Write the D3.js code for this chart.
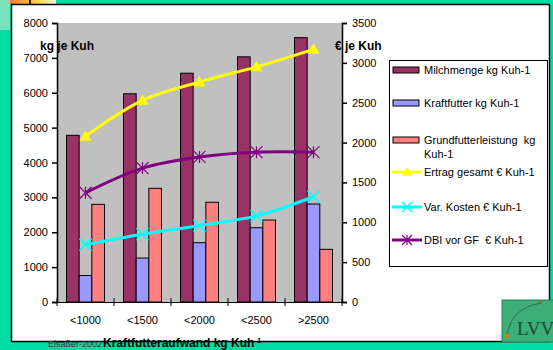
<!DOCTYPE html>
<html>
<head>
<meta charset="utf-8">
<script src="https://cdn.jsdelivr.net/npm/d3@7"></script>
<style>
  body { margin: 0; padding: 0; }
  svg { display: block; font-family: "Liberation Sans", Arial, sans-serif; }
</style>
</head>
<body>
<div id="chart"></div>
<script>
// categories and series
var categories = ["<1000", "<1500", "<2000", "<2500", ">2500"];

var milchmenge = [4780, 5970, 6560, 7030, 7580];
var kraftfutter = [760, 1260, 1700, 2130, 2810];
var grundfutter = [2800, 3260, 2860, 2350, 1510];

var ertrag = [2080, 2530, 2760, 2950, 3170];
var varKosten = [720, 850, 960, 1080, 1320];
var dbi = [1370, 1680, 1820, 1880, 1880];

var leftTicks = [0, 1000, 2000, 3000, 4000, 5000, 6000, 7000, 8000];
var rightTicks = [0, 500, 1000, 1500, 2000, 2500, 3000, 3500];

var barSeries = [
  { name: "Milchmenge kg Kuh-1", values: milchmenge, color: "#993366" },
  { name: "Kraftfutter kg Kuh-1", values: kraftfutter, color: "#9999FF" },
  { name: ["Grundfutterleistung\u00A0 kg", "Kuh-1"], values: grundfutter, color: "#FF8080" }
];
var lineSeries = [
  { name: "Ertrag gesamt \u20AC Kuh-1", values: ertrag, color: "#FFFF00", marker: "tri" },
  { name: "Var. Kosten \u20AC Kuh-1", values: varKosten, color: "#00FFFF", marker: "x" },
  { name: "DBI vor GF\u00A0 \u20AC Kuh-1", values: dbi, color: "#800080", marker: "star" }
];

var svgWidth = 553, svgHeight = 350;

var svg = d3.select("#chart").append("svg")
  .attr("width", svgWidth)
  .attr("height", svgHeight);

// teal page background
svg.append("rect").attr("width", svgWidth).attr("height", svgHeight).attr("fill", "#00DDA2");

// little decoration top-left
var grad = svg.append("defs").append("linearGradient").attr("id", "corner");
grad.append("stop").attr("offset", "0%").attr("stop-color", "#F07030");
grad.append("stop").attr("offset", "60%").attr("stop-color", "#FFD040");
grad.append("stop").attr("offset", "100%").attr("stop-color", "#FFF8E0");
svg.append("rect").attr("x", 8).attr("y", 0).attr("width", 48).attr("height", 4).attr("fill", "url(#corner)");
svg.append("rect").attr("x", 0).attr("y", 0).attr("width", 10).attr("height", 30).attr("fill", "#C8E8D0").attr("opacity", 0.6);
svg.append("rect").attr("x", 29).attr("y", 0).attr("width", 2).attr("height", 4).attr("fill", "#222");

// white card
svg.append("rect").attr("x", 11.5).attr("y", 4.5).attr("width", 538).attr("height", 337)
  .attr("fill", "#fff").attr("stroke", "#000").attr("stroke-width", 1.5);

// plot area
var plot = { left: 57, right: 342, top: 23, bottom: 302 };

var x = d3.scaleBand().domain(categories).range([plot.left, plot.right]).paddingInner(0).paddingOuter(0);
var yLeft = d3.scaleLinear().domain([0, 8000]).range([plot.bottom, plot.top]);
var yRight = d3.scaleLinear().domain([0, 3500]).range([plot.bottom, plot.top]);

svg.append("rect").attr("x", plot.left).attr("y", plot.top)
  .attr("width", plot.right - plot.left).attr("height", plot.bottom - plot.top)
  .attr("fill", "#C0C0C0");

// bars: 3 per category, gap width 150%
var barW = x.bandwidth() / 4.5;
var groupOffset = barW * 0.75;
barSeries.forEach(function(s, i) {
  svg.append("g").selectAll("rect")
    .data(s.values)
    .enter()
    .append("rect")
    .attr("x", (d, j) => x(categories[j]) + groupOffset + i * barW)
    .attr("y", d => yLeft(d))
    .attr("width", barW)
    .attr("height", d => yLeft(0) - yLeft(d))
    .attr("fill", s.color)
    .attr("stroke", "#000")
    .attr("stroke-width", 1);
});

// markers
function drawMarker(g, type, color, cx, cy, big) {
  var r = big ? 6 : 5;
  if (type === "tri") {
    g.append("path")
      .attr("d", `M${cx},${cy - r} L${cx + r},${cy + r * 0.75} L${cx - r},${cy + r * 0.75} Z`)
      .attr("fill", color);
  } else if (type === "x") {
    g.append("path")
      .attr("d", `M${cx - r},${cy - r} L${cx + r},${cy + r} M${cx - r},${cy + r} L${cx + r},${cy - r}`)
      .attr("stroke", color).attr("stroke-width", 1.5);
  } else {
    g.append("path")
      .attr("d", `M${cx - r},${cy - r} L${cx + r},${cy + r} M${cx - r},${cy + r} L${cx + r},${cy - r} M${cx},${cy - r} L${cx},${cy + r}`)
      .attr("stroke", color).attr("stroke-width", 1.2);
  }
}

// lines on right axis
var line = d3.line()
  .x((d, j) => x(categories[j]) + x.bandwidth() / 2)
  .y(d => yRight(d))
  .curve(d3.curveCatmullRom.alpha(0.5));

lineSeries.forEach(function(s) {
  var g = svg.append("g");
  g.append("path")
    .datum(s.values)
    .attr("d", line)
    .attr("fill", "none")
    .attr("stroke", s.color)
    .attr("stroke-width", 3);
  s.values.forEach(function(v, j) {
    drawMarker(g, s.marker, s.color, x(categories[j]) + x.bandwidth() / 2, yRight(v), true);
  });
});

// left axis
var leftAxis = d3.axisLeft(yLeft).tickValues(leftTicks).tickFormat(d3.format("d")).tickSize(5).tickPadding(4);
var gl = svg.append("g").attr("transform", `translate(${plot.left},0)`).call(leftAxis);
// right axis
var rightAxis = d3.axisRight(yRight).tickValues(rightTicks).tickFormat(d3.format("d")).tickSize(5).tickPadding(5);
var gr = svg.append("g").attr("transform", `translate(${plot.right},0)`).call(rightAxis);
// bottom axis with ticks between categories
var bottomAxis = d3.axisBottom(x).tickSize(0).tickPadding(14);
var gb = svg.append("g").attr("transform", `translate(0,${plot.bottom})`).call(bottomAxis);
gb.selectAll(".sep")
  .data(d3.range(categories.length + 1))
  .enter()
  .append("line")
  .attr("x1", i => plot.left + i * x.bandwidth())
  .attr("x2", i => plot.left + i * x.bandwidth())
  .attr("y1", -4).attr("y2", 4)
  .attr("stroke", "#000");

[gl, gr, gb].forEach(function(g) {
  g.select(".domain").attr("stroke", "#000").attr("stroke-width", 1.5);
  g.selectAll("text").attr("font-size", "11px").attr("fill", "#000")
    .attr("font-family", "'Liberation Sans', Arial, sans-serif");
  g.selectAll(".tick line").attr("stroke", "#000").attr("stroke-width", 1.5);
});
gb.select(".domain").attr("stroke-width", 1);

// axis titles
svg.append("text").attr("x", 40).attr("y", 50)
  .attr("font-size", "12px").attr("font-weight", "bold").text("kg je Kuh");
svg.append("text").attr("x", 335).attr("y", 50)
  .attr("font-size", "12px").attr("font-weight", "bold").text("\u20AC je Kuh");

// bottom texts, sitting on the card's lower border
svg.append("text").attr("x", 48).attr("y", 347)
  .attr("font-size", "9px").attr("fill", "#333").text("Elsaßer-2002");
var xt = svg.append("text").attr("x", 103).attr("y", 347)
  .attr("font-size", "12px").attr("font-weight", "bold").attr("fill", "#000");
xt.append("tspan").text("Kraftfutteraufwand kg Kuh");
xt.append("tspan").attr("font-size", "8px").attr("dy", -4).text("-1");

// legend
var legend = svg.append("g");
legend.append("rect").attr("x", 389.5).attr("y", 60.5).attr("width", 158).attr("height", 206)
  .attr("fill", "#fff").attr("stroke", "#000").attr("stroke-width", 1);

var barLegendY = [70, 103, 140];
barSeries.forEach(function(s, i) {
  legend.append("rect").attr("x", 393).attr("y", barLegendY[i] - 3).attr("width", 26).attr("height", 6)
    .attr("fill", s.color).attr("stroke", "#000").attr("stroke-width", 1);
  var names = Array.isArray(s.name) ? s.name : [s.name];
  names.forEach(function(n, k) {
    legend.append("text").attr("x", 424).attr("y", barLegendY[i] + 4 + k * 14)
      .attr("font-size", "11px").text(n);
  });
});

var lineLegendY = [172, 207, 240];
lineSeries.forEach(function(s, i) {
  var yy = lineLegendY[i];
  legend.append("line").attr("x1", 392).attr("x2", 422).attr("y1", yy).attr("y2", yy)
    .attr("stroke", s.color).attr("stroke-width", 3);
  drawMarker(legend, s.marker, s.color, 407, yy, false);
  legend.append("text").attr("x", 424).attr("y", yy + 4)
    .attr("font-size", "11px").text(s.name);
});

// LVV logo, bottom right
var logo = svg.append("g");
logo.append("rect").attr("x", 502).attr("y", 300).attr("width", 52).attr("height", 42)
  .attr("fill", "#3DAE78").attr("stroke", "#2A7A55").attr("stroke-width", 1);
logo.append("path").attr("d", "M507,337 Q510,308 541,303")
  .attr("fill", "none").attr("stroke", "#1E5A40").attr("stroke-width", 0.7);
logo.append("rect").attr("x", 505).attr("y", 334).attr("width", 4).attr("height", 4).attr("fill", "#E07020");
logo.append("rect").attr("x", 539).attr("y", 301).attr("width", 3).attr("height", 3).attr("fill", "#B06020");
logo.append("text").attr("x", 517).attr("y", 335)
  .attr("font-family", "'Liberation Serif', serif").attr("font-size", "19px")
  .attr("fill", "#1A4A30").text("LVV");
</script>
</body>
</html>
